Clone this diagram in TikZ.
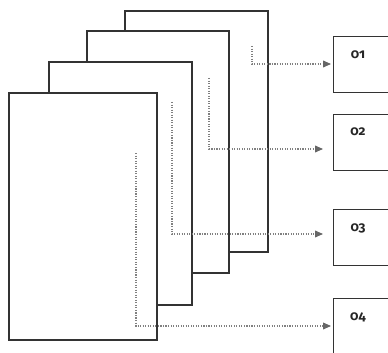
\documentclass[tikz,border=0pt]{standalone}
\usepackage{fontspec}
\newfontfamily\numfont[Numbers=OldStyle]{Fira Sans}
\usetikzlibrary{arrows.meta}

\tikzset{
  sheet/.style={draw=black!80, fill=white, line width=0.9pt},
  outbox/.style={draw=black!80, fill=white, line width=0.9pt, anchor=north west,
    minimum width=20mm, minimum height=14mm, inner sep=0pt},
  outlbl/.style={text=black!85, font=\numfont\bfseries\fontsize{9.5}{10}\selectfont},
  flow/.style={black!50, line width=0.8pt, densely dotted,
    -{Triangle[length=2mm,width=1.7mm,color=black!60,fill=black!60]}},
}

\begin{document}
\begin{tikzpicture}[x=0.25mm,y=-0.25mm]
            \useasboundingbox (0,0) rectangle (388,352);
            \clip (0,0) rectangle (388,352);

            % stacked sheets, back to front
            \draw [sheet] (125,11) rectangle (268,252);
            \draw [sheet] (87,31) rectangle (229,273);
            \draw [sheet] (49,62) rectangle (192,305);
            \draw [sheet] (9,93) rectangle (157,340);

            % output boxes
            \node [outbox] (o1) at (333,36) {};
            \node [outbox] (o2) at (333,114) {};
            \node [outbox] (o3) at (333,209) {};
            \node [outbox] (o4) at (333,298) {};
            \node [outlbl] (l1) at (358,55) {01};
            \node [outlbl] (l2) at (358,132) {02};
            \node [outlbl] (l3) at (358,228) {03};
            \node [outlbl] (l4) at (358,317) {04};

            % start and end of each flow
            \coordinate (s1) at (252,46);
            \coordinate (s2) at (209,78);
            \coordinate (s3) at (172,102);
            \coordinate (s4) at (136,153);
            \coordinate (t1) at (331,64);
            \coordinate (t2) at (323,149);
            \coordinate (t3) at (323,234);
            \coordinate (t4) at (331,326);

            \draw [flow] (s1) |- (t1);
            \draw [flow] (s2) |- (t2);
            \draw [flow] (s3) |- (t3);
            \draw [flow] (s4) |- (t4);
         \end{tikzpicture}
\end{document}
